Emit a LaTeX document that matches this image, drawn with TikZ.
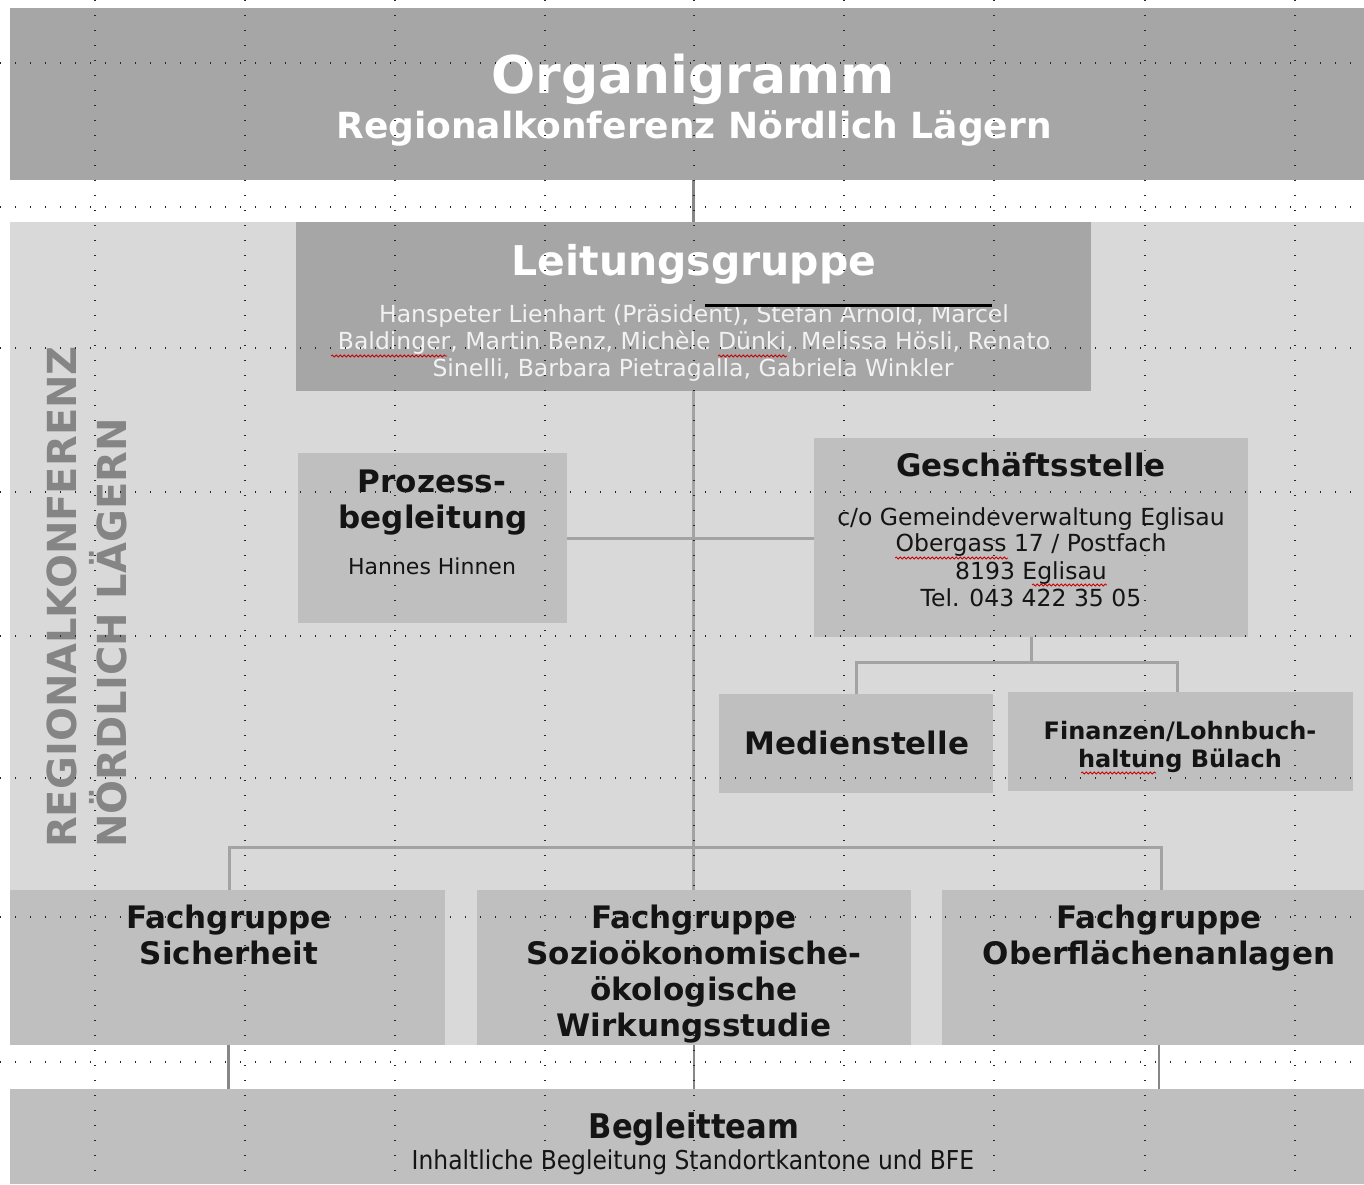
\documentclass[tikz,border=0pt]{standalone}
\usepackage{fontspec}
\setmainfont{DejaVu Sans}
\newfontfamily\condf{DejaVu Sans Condensed}
\usetikzlibrary{decorations.pathmorphing}
\definecolor{darkbox}{HTML}{A6A6A6}
\definecolor{midbox}{HTML}{BFBFBF}
\definecolor{lightbg}{HTML}{D9D9D9}
\definecolor{conn}{HTML}{A3A3A3}
\definecolor{connd}{HTML}{878787}
\definecolor{vtext}{HTML}{858585}
\definecolor{txtdark}{HTML}{141414}
\newcommand{\fsz}[2]{\fontsize{#1pt}{#2pt}\selectfont}
\tikzset{
  box/.style={fill=#1, draw=none, inner sep=0pt, anchor=north west},
  txt/.style={anchor=base, inner sep=0pt, text=txtdark},
  wtxt/.style={anchor=base, inner sep=0pt, text=white},
  conline/.style={draw=conn, line width=3pt},
  botline/.style={draw=connd, line width=2.5pt},
  gridl/.style={draw=black!85, line width=1.4pt, dash pattern=on 1.4pt off 13.6pt},
  squig/.style={draw=red!80!black, line width=0.8pt, decorate, decoration={snake, amplitude=1pt, segment length=4pt}},
  head/.style={font=\bfseries\fsz{31}{36}},
  body/.style={font=\fsz{23.5}{27}},
}
\begin{document}
\begin{tikzpicture}[x=1pt,y=-1pt]
\useasboundingbox (0,0) rectangle (1364,1184);
\fill[white] (0,0) rectangle (1364,1184);

% boxes
\node[box=darkbox, minimum width=1354, minimum height=172] (title) at (10,8) {};
\node[box=lightbg, minimum width=1354, minimum height=823] (region) at (10,222) {};
\node[box=darkbox, minimum width=795, minimum height=169] (leit) at (296,222) {};
\node[box=midbox, minimum width=269, minimum height=170] (proz) at (298,453) {};
\node[box=midbox, minimum width=434, minimum height=199] (gesch) at (814,438) {};
\node[box=midbox, minimum width=274, minimum height=99] (medien) at (719,694) {};
\node[box=midbox, minimum width=345, minimum height=99] (finanz) at (1008,692) {};
\node[box=midbox, minimum width=435, minimum height=155] (fg1) at (10,890) {};
\node[box=midbox, minimum width=434, minimum height=155] (fg2) at (477,890) {};
\node[box=midbox, minimum width=422, minimum height=155] (fg3) at (942,890) {};
\node[box=midbox, minimum width=1354, minimum height=95] (begleit) at (10,1089) {};

% connectors
\draw[botline, line width=3pt] (leit.north |- title.south) -- (leit.north);
\draw[conline] (leit.south) -- (leit.south |- fg2.north);
\draw[conline] (proz.east) -- (proz.east -| gesch.west);
\path (gesch.south) ++(0,25) coordinate (gsplit);
\draw[conline] (gesch.south) -- (gsplit);
\draw[conline] (medien.north) |- (gsplit) -| ([xshift=-3pt]finanz.north);
\coordinate (bus) at (694,847);
\draw[conline] ([xshift=2pt]fg1.north) |- (bus) -| ([xshift=8pt]fg3.north);
\draw[botline] ([xshift=1pt]fg1.south) -- ([xshift=1pt]fg1.south |- begleit.north);
\draw[botline] (fg2.south) -- (fg2.south |- begleit.north);
\draw[botline] ([xshift=6pt]fg3.south) -- ([xshift=6pt]fg3.south |- begleit.north);

% title texts
\node[wtxt, font=\bfseries\fsz{52}{60}] (tTitle) at (693,93) {Organigramm};
\node[wtxt, font=\bfseries\fsz{36}{42}] (tSub) at (694,138) {Regionalkonferenz Nördlich Lägern};

% vertical texts
\node[anchor=base west, rotate=90, inner sep=0pt, text=vtext, font=\bfseries\fsz{40}{46}] (vt1) at (76,848) {REGIONALKONFERENZ};
\node[anchor=base west, rotate=90, inner sep=0pt, text=vtext, font=\bfseries\fsz{40}{46}] (vt2) at (126,848) {NÖRDLICH LÄGERN};

% Leitungsgruppe
\node[wtxt, font=\bfseries\fsz{41}{48}] (tLeit) at (694,275) {Leitungsgruppe};
\node[wtxt, body, text=white!95!black] (tL1) at (694,322) {Hanspeter Lienhart (Präsident), Stefan Arnold, Marcel};
\node[wtxt, body, text=white!95!black] (tL2) at (694,349) {Baldinger, Martin Benz, Michèle Dünki, Melissa Hösli, Renato};
\node[wtxt, body, text=white!95!black] (tL3) at (693,376) {Sinelli, Barbara Pietragalla, Gabriela Winkler};
\draw[black, line width=3pt] (705,305) -- (992,305);

% Prozessbegleitung
\node[txt, head] (tP1) at (432,492) {Prozess-};
\node[txt, head] (tP2) at (433,528) {begleitung};
\node[txt, font=\fsz{22}{26}] (tP3) at (432,574) {Hannes Hinnen};

% Geschaeftsstelle
\node[txt, head] (tG1) at (1031,476) {Geschäftsstelle};
\node[txt, body] (tG2) at (1031,525) {c/o Gemeindeverwaltung Eglisau};
\node[txt, body] (tG3) at (1031,551) {Obergass 17 / Postfach};
\node[txt, body] (tG4) at (1031,579) {8193 Eglisau};
\node[txt, body] (tG5) at (1031,606) {Tel. 043 422 35 05};

% Medienstelle / Finanzen
\node[txt, head] (tM) at (857,754) {Medienstelle};
\node[txt, font=\bfseries\fsz{24}{28}] (tF1) at (1180,739) {Finanzen/Lohnbuch-};
\node[txt, font=\bfseries\fsz{24}{28}] (tF2) at (1180,767) {haltung Bülach};

% Fachgruppen
\node[txt, head] (tS1) at (229,928) {Fachgruppe};
\node[txt, head] (tS2) at (229,964) {Sicherheit};
\node[txt, head] (tW1) at (694,928) {Fachgruppe};
\node[txt, head] (tW2) at (694,964) {Sozioökonomische-};
\node[txt, head] (tW3) at (694,1000) {ökologische};
\node[txt, head] (tW4) at (694,1036) {Wirkungsstudie};
\node[txt, head] (tO1) at (1159,928) {Fachgruppe};
\node[txt, head] (tO2) at (1159,964) {Oberflächenanlagen};

% Begleitteam
\node[txt, font=\condf\bfseries\fsz{34}{40}] (tB1) at (694,1138) {Begleitteam};
\node[txt, font=\condf\fsz{26}{30}] (tB2) at (693,1169) {Inhaltliche Begleitung Standortkantone und BFE};

% spell-check underlines
\draw[squig] (331,356) -- (447,356);
\draw[squig] (718,356) -- (787,356);
\draw[squig] (895,558) -- (1008,558);
\draw[squig] (1032,585) -- (1107,585);
\draw[squig] (1081,773) -- (1156,773);

% editor grid
\foreach \gx in {95,245,395,545,694,844,994,1145,1295} {\draw[gridl] (\gx,0) -- (\gx,1184);}
\foreach \gy in {63,207,348,492,636,778,917,1062} {\draw[gridl] (0,\gy) -- (1364,\gy);}
\end{tikzpicture}
\end{document}
